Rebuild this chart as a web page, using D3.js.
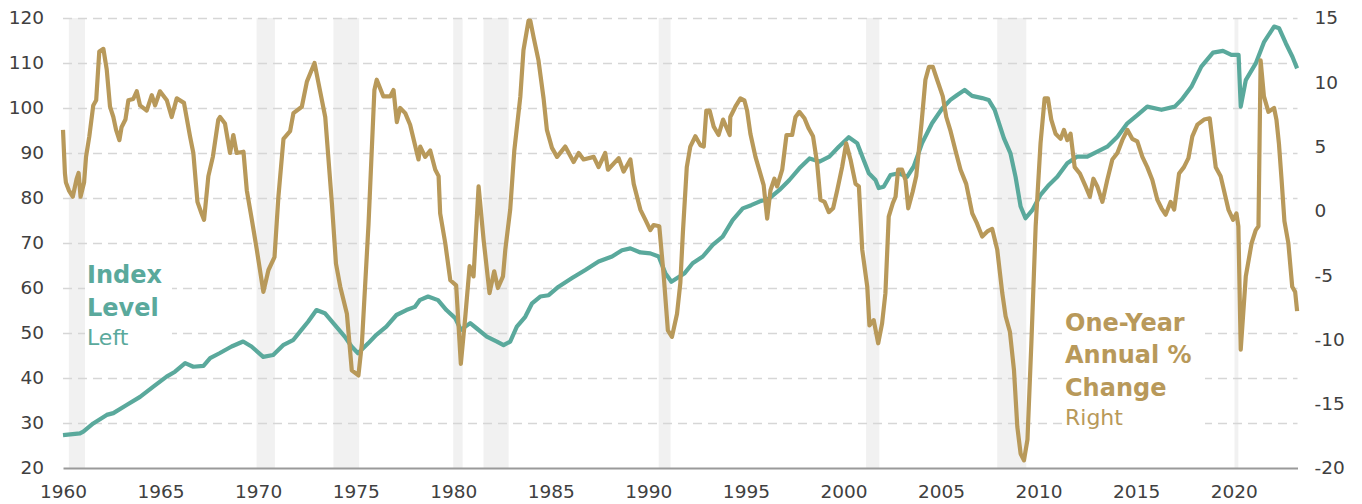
<!DOCTYPE html>
<html>
<head>
<meta charset="utf-8">
<script src="https://cdn.jsdelivr.net/npm/d3@7"></script>
<style>
  body { margin: 0; background: #fff; }
  .tick text { font-family: "DejaVu Sans", sans-serif; font-size: 18.5px; fill: #404040; }
</style>
</head>
<body>
<div id="chart"></div>
<script>
// recession periods (shaded)
var recessions = [[1960.3, 1961.13], [1969.92, 1970.86], [1973.86, 1975.18], [1980.0, 1980.48],
  [1981.55, 1982.84], [1990.53, 1991.14], [2001.16, 2001.84], [2007.88, 2009.37], [2020.04, 2020.24]];

var yearTicks = [1960, 1965, 1970, 1975, 1980, 1985, 1990, 1995, 2000, 2005, 2010, 2015, 2020];
var leftTicks = [20, 30, 40, 50, 60, 70, 80, 90, 100, 110, 120];
var rightTicks = [-20, -15, -10, -5, 0, 5, 10, 15];

// index level (left axis) as [year, value]
var indexLevel = [
  [1960.0, 27.3], [1960.87, 27.7], [1961.04, 28.1], [1961.55, 29.9], [1962.24, 31.8], [1962.58, 32.2],
  [1963.26, 34.0], [1963.95, 35.8], [1964.63, 38.1], [1965.31, 40.3], [1965.74, 41.4], [1966.26, 43.3],
  [1966.68, 42.5], [1967.2, 42.7], [1967.54, 44.4], [1968.02, 45.5], [1968.64, 47.0], [1969.23, 48.1],
  [1969.66, 47.0], [1970.26, 44.7], [1970.77, 45.1], [1971.28, 47.3], [1971.79, 48.4], [1972.22, 50.7],
  [1972.56, 52.5], [1972.99, 55.1], [1973.42, 54.4], [1973.93, 51.8], [1974.44, 49.2], [1974.79, 47.0],
  [1975.12, 45.5], [1975.64, 47.7], [1976.06, 49.6], [1976.57, 51.4], [1977.09, 54.0], [1977.6, 55.1],
  [1978.03, 55.8], [1978.28, 57.3], [1978.71, 58.1], [1979.22, 57.3], [1979.65, 55.1], [1980.1, 53.3],
  [1980.39, 50.7], [1980.87, 52.2], [1981.21, 51.0], [1981.72, 49.2], [1982.24, 48.1], [1982.58, 47.3],
  [1982.92, 48.1], [1983.26, 51.4], [1983.69, 53.6], [1984.04, 56.6], [1984.46, 58.1], [1984.89, 58.4],
  [1985.4, 60.3], [1986.09, 62.2], [1986.77, 64.0], [1987.45, 65.9], [1988.14, 67.0], [1988.65, 68.4],
  [1989.08, 68.8], [1989.59, 67.9], [1990.1, 67.7], [1990.53, 67.0], [1990.87, 63.3], [1991.18, 61.4],
  [1991.86, 63.3], [1992.27, 65.5], [1992.79, 67.0], [1993.3, 69.6], [1993.81, 71.4], [1994.32, 75.1],
  [1994.84, 77.7], [1995.27, 78.4], [1995.69, 79.2], [1996.2, 79.9], [1996.72, 81.8], [1997.23, 84.0],
  [1997.74, 86.6], [1998.26, 88.8], [1998.77, 88.1], [1999.28, 89.2], [1999.76, 91.4], [2000.27, 93.5],
  [2000.7, 92.2], [2001.04, 88.4], [2001.3, 85.5], [2001.64, 84.0], [2001.81, 82.2], [2002.06, 82.5],
  [2002.41, 85.1], [2002.83, 85.5], [2003.26, 84.7], [2003.6, 87.0], [2004.03, 92.2], [2004.54, 96.6],
  [2005.06, 99.9], [2005.48, 101.8], [2005.83, 102.9], [2006.21, 104.0], [2006.59, 102.7], [2007.11, 102.2],
  [2007.44, 101.8], [2007.75, 99.6], [2008.22, 93.3], [2008.56, 89.9], [2008.82, 84.7], [2009.08, 78.1],
  [2009.33, 75.5], [2009.68, 77.3], [2010.1, 80.7], [2010.53, 82.9], [2010.96, 84.7], [2011.47, 87.7],
  [2011.98, 89.2], [2012.5, 89.2], [2013.01, 90.3], [2013.52, 91.4], [2014.04, 93.6], [2014.55, 96.6],
  [2015.06, 98.4], [2015.57, 100.3], [2016.3, 99.6], [2016.98, 100.3], [2017.32, 101.8], [2017.83, 104.7],
  [2018.34, 109.2], [2018.94, 112.3], [2019.45, 112.7], [2019.88, 111.8], [2020.25, 111.8], [2020.36, 100.3],
  [2020.62, 106.2], [2021.13, 109.9], [2021.56, 114.7], [2022.07, 118.1], [2022.33, 117.7], [2022.67, 114.4],
  [2023.01, 111.4], [2023.25, 108.8]
];

// one-year % change (right axis) as [year, value]
var yearChange = [
  [1960.0, 6.3], [1960.1, 2.9], [1960.15, 2.2], [1960.3, 1.6], [1960.5, 1.1], [1960.7, 2.5], [1960.8, 2.95],
  [1960.9, 1.1], [1961.08, 2.2], [1961.18, 4.2], [1961.35, 5.8], [1961.55, 8.2], [1961.7, 8.6], [1961.86, 12.4],
  [1962.07, 12.6], [1962.24, 11.0], [1962.41, 8.1], [1962.58, 7.3], [1962.72, 6.3], [1962.89, 5.5], [1963.0, 6.5],
  [1963.2, 7.1], [1963.35, 8.6], [1963.6, 8.7], [1963.78, 9.3], [1963.95, 8.2], [1964.29, 7.8], [1964.55, 9.0],
  [1964.72, 8.2], [1964.97, 9.3], [1965.32, 8.6], [1965.57, 7.3], [1965.83, 8.75], [1966.2, 8.4], [1966.51, 5.8],
  [1966.68, 4.5], [1966.89, 0.7], [1967.1, -0.2], [1967.23, -0.7], [1967.45, 2.7], [1967.68, 4.2], [1967.96, 7.1],
  [1968.05, 7.3], [1968.3, 6.8], [1968.56, 4.5], [1968.73, 5.9], [1968.9, 4.5], [1969.25, 4.6], [1969.42, 1.6],
  [1969.68, -0.7], [1969.93, -3.0], [1970.27, -6.3], [1970.53, -4.6], [1970.84, -3.6], [1971.04, 1.1],
  [1971.3, 5.6], [1971.64, 6.2], [1971.81, 7.6], [1972.24, 8.1], [1972.5, 10.05], [1972.89, 11.5], [1973.1, 9.9],
  [1973.44, 7.3], [1973.78, 0.6], [1973.99, -4.1], [1974.21, -5.9], [1974.55, -8.0], [1974.8, -12.4],
  [1975.14, -12.8], [1975.32, -10.3], [1975.66, -1.0], [1975.96, 9.4], [1976.08, 10.2], [1976.42, 8.9],
  [1976.77, 8.9], [1976.94, 9.4], [1977.11, 6.9], [1977.28, 8.0], [1977.54, 7.6], [1977.79, 6.7], [1978.22, 4.0],
  [1978.31, 5.0], [1978.56, 4.2], [1978.82, 4.7], [1979.08, 3.2], [1979.25, 2.7], [1979.33, -0.2], [1979.59, -2.5],
  [1979.85, -5.4], [1980.15, -5.8], [1980.39, -11.9], [1980.62, -8.2], [1980.84, -4.3], [1981.04, -5.1],
  [1981.3, 1.9], [1981.56, -2.3], [1981.86, -6.4], [1982.1, -4.7], [1982.29, -6.0], [1982.55, -5.1],
  [1982.67, -3.0], [1982.92, 0.1], [1983.13, 4.7], [1983.44, 8.9], [1983.6, 12.5], [1983.86, 14.8],
  [1983.95, 14.8], [1984.12, 13.5], [1984.37, 11.7], [1984.63, 8.75], [1984.8, 6.3], [1985.06, 4.9],
  [1985.32, 4.2], [1985.74, 5.0], [1986.17, 3.8], [1986.43, 4.5], [1986.68, 4.0], [1987.2, 4.2], [1987.45, 3.4],
  [1987.79, 4.5], [1987.93, 3.2], [1988.48, 4.1], [1988.73, 3.05], [1989.08, 4.0], [1989.25, 2.1], [1989.59, 0.1],
  [1989.85, -0.7], [1990.1, -1.5], [1990.27, -1.1], [1990.56, -1.2], [1990.79, -5.1], [1991.0, -9.3],
  [1991.21, -9.8], [1991.47, -8.0], [1991.64, -5.6], [1991.77, -1.7], [1991.97, 3.4], [1992.15, 5.0],
  [1992.41, 5.8], [1992.67, 5.1], [1992.84, 5.0], [1992.97, 7.8], [1993.14, 7.8], [1993.35, 6.55], [1993.6, 5.9],
  [1993.83, 7.1], [1994.17, 5.9], [1994.2, 7.3], [1994.46, 8.1], [1994.72, 8.75], [1994.92, 8.6], [1995.06, 7.8],
  [1995.23, 6.0], [1995.49, 4.2], [1995.74, 2.9], [1995.91, 2.0], [1996.09, -0.6], [1996.26, 1.6], [1996.46, 2.5],
  [1996.6, 1.9], [1996.86, 3.2], [1997.08, 5.9], [1997.37, 5.9], [1997.54, 7.3], [1997.74, 7.7], [1998.0, 7.2],
  [1998.22, 6.4], [1998.44, 5.8], [1998.65, 3.7], [1998.82, 0.85], [1999.03, 0.7], [1999.25, -0.1],
  [1999.47, 0.2], [1999.68, 1.6], [1999.93, 3.4], [2000.14, 5.25], [2000.36, 4.0], [2000.62, 2.1],
  [2000.79, 1.9], [2000.96, -3.0], [2001.22, -5.9], [2001.33, -8.9], [2001.55, -8.5], [2001.78, -10.3],
  [2001.98, -8.75], [2002.15, -6.4], [2002.32, -0.45], [2002.53, 0.6], [2002.67, 1.1], [2002.8, 3.2],
  [2003.0, 3.2], [2003.18, 2.4], [2003.32, 0.2], [2003.55, 1.5], [2003.73, 2.7], [2004.0, 6.8], [2004.2, 10.2],
  [2004.38, 11.2], [2004.58, 11.2], [2004.8, 10.2], [2005.09, 8.9], [2005.27, 7.3], [2005.49, 6.2],
  [2005.74, 4.7], [2006.0, 3.2], [2006.29, 2.1], [2006.6, -0.2], [2006.85, -1.0], [2007.11, -2.0],
  [2007.37, -1.6], [2007.62, -1.4], [2007.88, -3.0], [2008.14, -6.4], [2008.31, -8.2], [2008.53, -9.4],
  [2008.74, -12.4], [2008.91, -16.8], [2009.08, -18.9], [2009.25, -19.4], [2009.43, -17.8], [2009.63, -10.3],
  [2009.85, -1.2], [2010.1, 5.25], [2010.31, 8.75], [2010.48, 8.75], [2010.65, 7.1], [2010.87, 6.0],
  [2011.13, 5.6], [2011.3, 6.3], [2011.47, 5.5], [2011.64, 6.0], [2011.85, 3.4], [2012.12, 2.9], [2012.41, 1.9],
  [2012.63, 1.1], [2012.81, 2.5], [2013.01, 1.9], [2013.27, 0.7], [2013.52, 2.4], [2013.78, 4.0], [2014.04, 4.5],
  [2014.29, 5.5], [2014.55, 6.3], [2014.8, 5.6], [2015.06, 5.4], [2015.32, 4.2], [2015.57, 3.4], [2015.83, 2.4],
  [2016.09, 0.85], [2016.3, 0.2], [2016.51, -0.3], [2016.77, 0.7], [2016.95, 0.1], [2017.2, 2.9], [2017.45, 3.4],
  [2017.68, 4.1], [2017.88, 5.8], [2018.14, 6.7], [2018.48, 7.1], [2018.77, 7.2], [2019.08, 3.4], [2019.33, 2.7],
  [2019.73, 0.1], [2019.97, -0.7], [2020.14, -0.2], [2020.24, -1.2], [2020.36, -10.8], [2020.62, -5.1],
  [2020.92, -2.5], [2021.13, -1.5], [2021.27, -1.2], [2021.38, 11.7], [2021.55, 8.9], [2021.78, 7.7],
  [2022.07, 8.0], [2022.19, 7.1], [2022.32, 5.2], [2022.45, 2.5], [2022.6, -0.8], [2022.8, -2.5],
  [2023.0, -5.9], [2023.15, -6.3], [2023.25, -7.8]
];

var teal = "#5aa99c", gold = "#b8995a";

var width = 1362, height = 504;
var plotLeft = 63, plotRight = 1297.5, plotTop = 18, plotBottom = 468;

var svg = d3.select("#chart").append("svg")
  .attr("width", width)
  .attr("height", height);

var x = d3.scaleLinear().domain([1960, 2023.27]).range([plotLeft, plotRight]);
var yL = d3.scaleLinear().domain([20, 120]).range([plotBottom, plotTop]);
var yR = d3.scaleLinear().domain([-20, 15]).range([plotBottom, plotTop]);

// recession shading
svg.append("g").selectAll("rect")
  .data(recessions)
  .enter().append("rect")
  .attr("x", function(d) { return x(d[0]); })
  .attr("width", function(d) { return x(d[1]) - x(d[0]); })
  .attr("y", plotTop)
  .attr("height", plotBottom - plotTop)
  .attr("fill", "#f1f1f1");

// dashed gridlines from left scale
var grid = svg.append("g")
  .attr("transform", "translate(" + plotLeft + ",0)")
  .call(d3.axisLeft(yL).tickValues(leftTicks.slice(1)).tickSize(-(plotRight - plotLeft)).tickFormat(""));
grid.select(".domain").remove();
grid.selectAll("line").attr("stroke", "#d6d6d6").attr("stroke-width", 1.6).attr("stroke-dasharray", "9,6");

// white boxes behind the series labels
svg.append("rect").attr("x", 85).attr("y", 258).attr("width", 87).attr("height", 94).attr("fill", "#fff");
svg.append("rect").attr("x", 1062).attr("y", 298).attr("width", 143).attr("height", 138).attr("fill", "#fff");

var line = function(scale) {
  return d3.line()
    .x(function(d) { return x(d[0]); })
    .y(function(d) { return scale(d[1]); });
};

svg.append("path")
  .attr("d", line(yL)(indexLevel))
  .attr("fill", "none")
  .attr("stroke", teal)
  .attr("stroke-width", 4.2)
  .attr("stroke-linejoin", "round");

svg.append("path")
  .attr("d", line(yR)(yearChange))
  .attr("fill", "none")
  .attr("stroke", gold)
  .attr("stroke-width", 4.2)
  .attr("stroke-linejoin", "round");

// axes
var xAxis = svg.append("g")
  .attr("transform", "translate(0," + plotBottom + ")")
  .call(d3.axisBottom(x).tickValues(yearTicks).tickFormat(function(d) { return String(d); }).tickSize(0).tickSizeOuter(0).tickPadding(17));
xAxis.select(".domain").attr("stroke", "#9a9a9a").attr("stroke-width", 1.8);

var leftAxis = svg.append("g")
  .attr("transform", "translate(" + plotLeft + ",0)")
  .call(d3.axisLeft(yL).tickValues(leftTicks).tickFormat(function(d) { return String(d); }).tickSize(0).tickPadding(19));
leftAxis.select(".domain").remove();

var rightAxis = svg.append("g")
  .attr("transform", "translate(" + plotRight + ",0)")
  .call(d3.axisRight(yR).tickValues(rightTicks).tickFormat(function(d) { return String(d); }).tickSize(0).tickPadding(17));
rightAxis.select(".domain").remove();

// series labels
function label(lines, xPos, color) {
  var t = svg.append("g");
  lines.forEach(function(l) {
    t.append("text")
      .attr("x", xPos)
      .attr("y", l[1])
      .attr("fill", color)
      .attr("font-family", "DejaVu Sans, sans-serif")
      .attr("font-size", l[2] ? "24px" : "22px")
      .attr("font-weight", l[2] ? "bold" : "normal")
      .text(l[0]);
  });
}
label([["Index", 283, true], ["Level", 316, true], ["Left", 345, false]], 87, teal);
label([["One-Year", 331, true], ["Annual %", 363, true], ["Change", 396, true], ["Right", 425, false]], 1065, gold);
</script>
</body>
</html>
